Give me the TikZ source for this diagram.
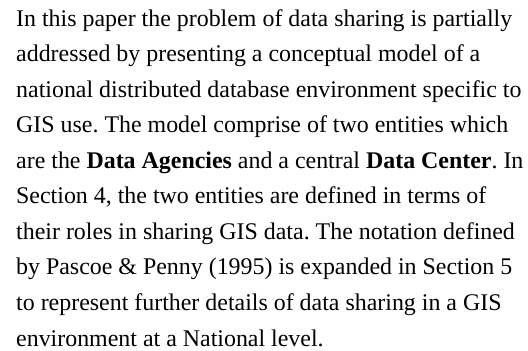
\documentclass[tikz,border=0pt]{standalone}
\usepackage{fontspec}
\setmainfont{Liberation Serif}
\begin{document}
\frenchspacing
\begin{tikzpicture}[x=1bp,y=1bp,
  txt/.style={anchor=base west,inner sep=0pt,font=\fontsize{24}{28}\selectfont}]
\useasboundingbox (0,0) rectangle (528,350);
\node[txt] (l1) at (16,324) {In this paper the problem of data sharing is partially};
\node[txt] (l2) at (16,288.44) {addressed by presenting a conceptual model of a};
\node[txt] (l3) at (16,252.89) {national distributed database environment specific to};
\node[txt] (l4) at (16,217.33) {GIS use. The model comprise of two entities which};
\node[txt] (l5) at (16,181.78) {are the \textbf{Data Agencies} and a central \textbf{Data Center}. In};
\node[txt] (l6) at (16,146.22) {Section 4, the two entities are defined in terms of};
\node[txt] (l7) at (16,110.67) {their roles in sharing GIS data. The notation defined};
\node[txt] (l8) at (16,75.11) {by Pascoe \& Penny (1995) is expanded in Section 5};
\node[txt] (l9) at (16,39.56) {to represent further details of data sharing in a GIS};
\node[txt] (l10) at (16,4) {environment at a National level.};
\end{tikzpicture}
\end{document}
